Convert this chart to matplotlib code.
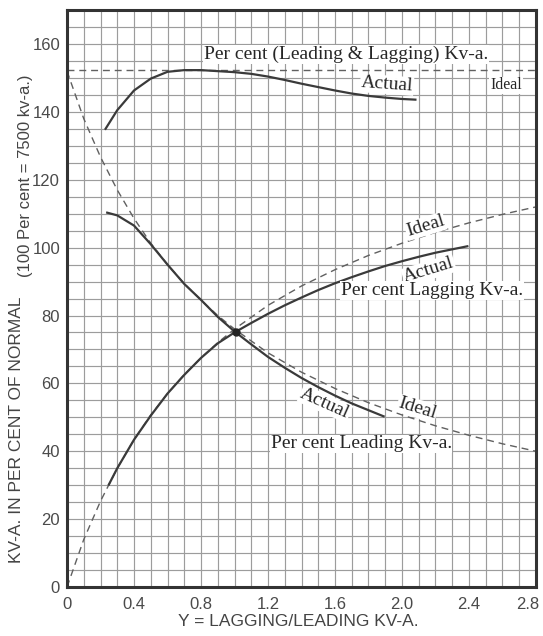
import matplotlib.pyplot as plt
from matplotlib.ticker import MultipleLocator
from matplotlib.transforms import ScaledTranslation

# Y = lagging / leading kv-a.
ideal_x = [0, 0.1, 0.2, 0.3, 0.4, 0.5, 0.6, 0.7, 0.8, 0.9, 1.0,
           1.2, 1.4, 1.6, 1.8, 2.0, 2.2, 2.4, 2.6, 2.8]
ideal_lagging = [0, 14, 25.3, 35, 43.4, 50.7, 57, 62.6, 67.5, 72, 76,
                 83, 88.7, 93.5, 97.7, 101.3, 104.5, 107.3, 109.8, 112]
ideal_leading = [152, 138, 126.7, 117, 108.6, 101.3, 95, 89.4, 84.5, 80, 76,
                 69, 63.3, 58.5, 54.3, 50.7, 47.5, 44.7, 42.2, 40]
ideal_total_x = [0, 2.8]
ideal_total = [152.4, 152.4]

total_x = [0.23, 0.3, 0.4, 0.5, 0.6, 0.7, 0.8, 0.9, 1.0, 1.1, 1.2, 1.3,
           1.4, 1.5, 1.6, 1.7, 1.8, 1.9, 2.0, 2.08]
total_actual = [135, 140.5, 146.3, 149.8, 151.8, 152.3, 152.3, 152, 151.7,
                151.2, 150.4, 149.4, 148.3, 147.3, 146.3, 145.4, 144.7,
                144.2, 143.8, 143.6]

lagging_x = [0.25, 0.3, 0.4, 0.5, 0.6, 0.7, 0.8, 0.9, 1.0, 1.1, 1.2, 1.3,
             1.4, 1.5, 1.6, 1.7, 1.8, 1.9, 2.0, 2.1, 2.2, 2.3, 2.39]
lagging_actual = [30.2, 35, 43.4, 50.5, 57, 62.5, 67.5, 71.8, 75, 77.8, 80.5,
                  83, 85.3, 87.5, 89.5, 91.3, 93, 94.6, 96, 97.3, 98.5, 99.5,
                  100.4]

leading_x = [0.24, 0.3, 0.4, 0.5, 0.6, 0.7, 0.8, 0.9, 1.0, 1.1, 1.2, 1.3,
             1.4, 1.5, 1.6, 1.7, 1.8, 1.89]
leading_actual = [110.3, 109.5, 106.5, 101, 95, 89.3, 84.6, 79.6, 75.3, 71.5,
                  67.8, 64.6, 61.6, 58.9, 56.4, 54.1, 52.1, 50.3]

crossing = (1.01, 75.1)

x_ticks = [0, 0.4, 0.8, 1.2, 1.6, 2.0, 2.4, 2.8]
x_tick_labels = ["0", "0.4", "0.8", "1.2", "1.6", "2.0", "2.4", "2.8"]
y_ticks = [0, 20, 40, 60, 80, 100, 120, 140, 160]

plt.rcParams["font.family"] = ["Liberation Sans", "DejaVu Sans"]

INK = "#3a3a3a"
SERIF = ["Liberation Serif", "DejaVu Serif"]

fig = plt.figure(figsize=(5.43, 6.36), dpi=100)
ax = fig.add_axes([0.1234, 0.077, 0.8637, 0.9072])

ax.set_xlim(0, 2.8)
ax.set_ylim(0, 170)

# fine section paper
ax.xaxis.set_minor_locator(MultipleLocator(0.1))
ax.yaxis.set_minor_locator(MultipleLocator(5))
ax.grid(which="both", color="#9c9c9c", linewidth=0.85)
ax.set_axisbelow(True)

ax.set_xticks(x_ticks)
ax.set_xticklabels(x_tick_labels)
ax.set_yticks(y_ticks)
ax.tick_params(which="both", length=0, labelsize=12, colors="#4a4a4a")
ax.tick_params(axis="x", pad=7)
ax.tick_params(axis="y", pad=5)

# last x label sits against the edge of the sheet
last = ax.get_xticklabels()[-1]
last.set_transform(last.get_transform()
                   + ScaledTranslation(-6 / 72, 0, fig.dpi_scale_trans))

for side in ax.spines.values():
    side.set_linewidth(2.2)
    side.set_color("#333333")

dash = (0, (5, 3.5))

ax.plot(ideal_total_x, ideal_total, color="#606060", lw=1.0, ls=dash)
ax.plot(ideal_x, ideal_lagging, color="#606060", lw=1.0, ls=dash)
ax.plot(ideal_x, ideal_leading, color="#606060", lw=1.0, ls=dash)

ax.plot(total_x, total_actual, color=INK, lw=1.6)
ax.plot(lagging_x, lagging_actual, color=INK, lw=1.6)
ax.plot(leading_x, leading_actual, color=INK, lw=1.6)

ax.plot(*crossing, "o", color="#222222", markersize=5)

box = dict(facecolor="white", edgecolor="none", pad=0.6)


def label(x, y, text, size=14, rot=0):
    ax.text(x, y, text, fontsize=size, family=SERIF, color="#262626",
            rotation=rot, rotation_mode="anchor", ha="center", va="center",
            bbox=box, zorder=3)


label(1.667, 157.0, "Per cent (Leading & Lagging) Kv-a.")
label(1.91, 148.0, "Actual", rot=-4)
label(2.62, 147.8, "Ideal", size=11.5)
label(2.14, 106.3, "Ideal", rot=17)
label(2.16, 93.3, "Actual", rot=17)
label(2.18, 87.3, "Per cent Lagging Kv-a.")
label(1.54, 54.0, "Actual", rot=-24)
label(2.09, 52.6, "Ideal", rot=-17)
label(1.756, 42.2, "Per cent Leading Kv-a.")

fig.text(17 / 543, 1 - 430 / 636, "KV-A. IN PER CENT OF NORMAL",
         rotation=90, ha="center", va="center", fontsize=12.5,
         color="#444444")
fig.text(26 / 543, 1 - 176 / 636, "(100 Per cent = 7500 kv-a.)",
         rotation=90, ha="center", va="center", fontsize=12,
         color="#444444")
fig.text(298 / 543, 1 - 622 / 636, "Y = LAGGING/LEADING KV-A.",
         ha="center", va="center", fontsize=12.5, color="#444444")

fig.savefig("out.png", dpi=100)
